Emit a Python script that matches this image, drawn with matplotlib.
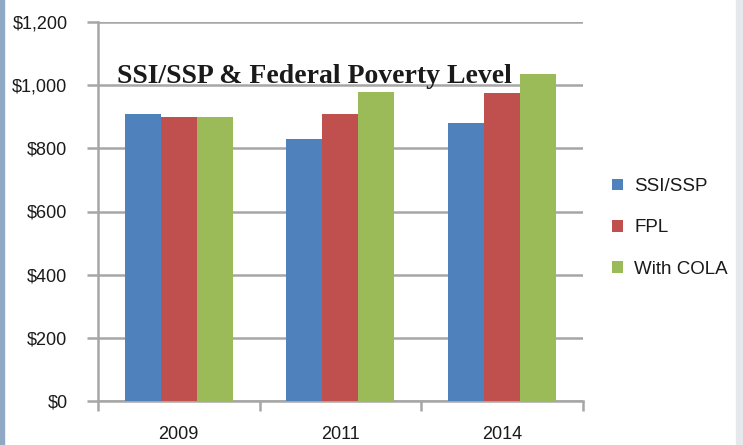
import numpy as np
import matplotlib.pyplot as plt
from matplotlib.patches import Rectangle
from matplotlib.ticker import FuncFormatter

# valores
anos = ["2009", "2011", "2014"]
series = ["SSI/SSP", "FPL", "With COLA"]
ssi_ssp = [908, 829, 879]
fpl = [900, 908, 976]
with_cola = [900, 979, 1035]
cores = ["#4F81BD", "#C0504D", "#9BBB59"]

plt.rcParams["font.family"] = ["Liberation Sans", "DejaVu Sans"]

fig = plt.figure(figsize=(7.43, 4.45), dpi=100)
ax = fig.add_axes([98 / 743, 1 - 401 / 445, 484.5 / 743, 379 / 445])

x = np.arange(len(anos))
largura = 0.223
for i, (nome, valores, cor) in enumerate(zip(series, [ssi_ssp, fpl, with_cola], cores)):
    ax.bar(x + (i - 1) * largura, valores, largura, color=cor, label=nome, zorder=3)

ax.set_xlim(-0.5, 2.5)
ax.set_ylim(0, 1200)
ax.set_yticks(np.arange(0, 1201, 200))
ax.yaxis.set_major_formatter(FuncFormatter(lambda v, p: f"${v:,.0f}"))
ax.set_xticks(x)
ax.set_xticklabels(anos)
ax.set_xticks([-0.5, 0.5, 1.5, 2.5], minor=True)

ax.grid(axis="y", color="#a6a6a6", linewidth=1.8, zorder=0)
for lado in ["top", "right"]:
    ax.spines[lado].set_visible(False)
for lado in ["left", "bottom"]:
    ax.spines[lado].set_color("#a6a6a6")
    ax.spines[lado].set_linewidth(1.8)

ax.tick_params(axis="y", length=8, width=1.8, color="#a6a6a6", labelsize=13, pad=14, labelcolor="#1a1a1a")
ax.tick_params(axis="x", which="major", length=0, labelsize=13, pad=18, labelcolor="#1a1a1a")
ax.tick_params(axis="x", which="minor", length=7, width=1.8, color="#a6a6a6")

ax.text(0.039, 0.84, "SSI/SSP & Federal Poverty Level", transform=ax.transAxes,
        fontfamily="Liberation Serif", fontweight="bold", fontsize=20, color="#1a1a1a",
        ha="left", va="baseline", zorder=5)

fig.legend(loc="center left", bbox_to_anchor=(595 / 743, 1 - 228 / 445), frameon=False,
           fontsize=13.5, handlelength=0.6, handleheight=0.6, handletextpad=0.6,
           labelspacing=1.3, labelcolor="#1a1a1a")

# moldura da imagem
fig.patches.append(Rectangle((0, 0), 4 / 743, 1, transform=fig.transFigure,
                             color="#8fa9c4", zorder=0))
fig.patches.append(Rectangle((736 / 743, 0), 7 / 743, 1, transform=fig.transFigure,
                             color="#e6e9ec", zorder=0))

fig.savefig("out.png", dpi=100)
